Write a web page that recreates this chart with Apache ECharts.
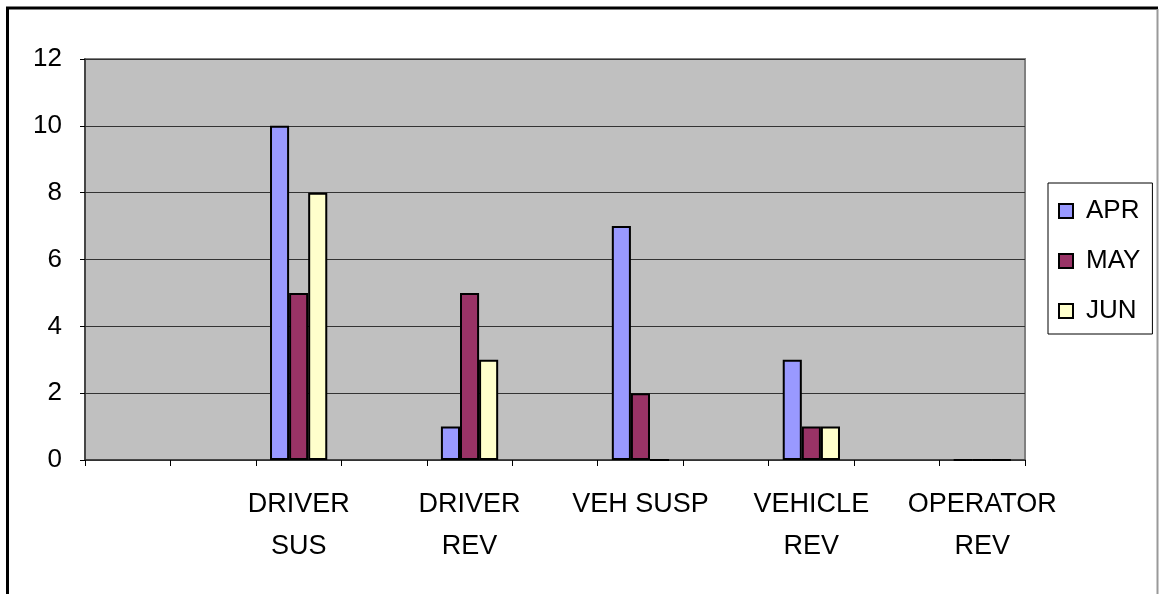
<!DOCTYPE html>
<html>
<head>
<meta charset="utf-8">
<script src="https://cdn.jsdelivr.net/npm/echarts@6/dist/echarts.min.js"></script>
<style>
html,body{margin:0;padding:0;background:#fff;}
#chart{width:1159px;height:594px;}
</style>
</head>
<body>
<div id="chart"></div>
<script>
const categories = ['', '', 'DRIVER\nSUS', '', 'DRIVER\nREV', '', 'VEH SUSP', '', 'VEHICLE\nREV', '', 'OPERATOR\nREV'];
const apr = [null, null, 10, null, 1, null, 7, null, 3, null, 0];
const may = [null, null, 5, null, 5, null, 2, null, 1, null, 0];
const jun = [null, null, 8, null, 3, null, 0, null, 1, null, 0];
const seriesNames = ['APR', 'MAY', 'JUN'];
const yTicks = {min: 0, max: 12, interval: 2};

const FONT = '"Liberation Sans", Arial, sans-serif';
const colors = ['#9999FF', '#993366', '#FFFFCC'];
const chart = echarts.init(document.getElementById('chart'), null, {renderer: 'canvas'});

function barSeries(name, data, color) {
  return {
    name: name, type: 'bar', data: data,
    barGap: '0%', barCategoryGap: '33%',
    itemStyle: {color: color, borderColor: '#000', borderWidth: 2},
    emphasis: {disabled: true}, animation: false
  };
}

chart.setOption({
  animation: false,
  backgroundColor: '#fff',
  textStyle: {fontFamily: FONT},
  grid: {
    left: 85, right: 134, top: 59, bottom: 134,
    show: true, backgroundColor: '#C0C0C0', borderColor: '#808080', borderWidth: 2
  },
  legend: {
    orient: 'vertical', left: 1048, top: 183,
    padding: [13, 12, 8, 10], itemGap: 20,
    itemWidth: 14, itemHeight: 14,
    backgroundColor: '#fff', borderColor: '#000', borderWidth: 1, borderRadius: 0,
    textStyle: {fontSize: 26, lineHeight: 30, color: '#000', fontFamily: FONT, padding: [0, 0, 0, 8]},
    data: seriesNames.map(n => ({name: n, icon: 'rect'}))
  },
  xAxis: {
    type: 'category', data: categories, boundaryGap: true,
    axisLine: {show: true, lineStyle: {color: '#333', width: 1.5}},
    axisTick: {show: true, interval: 0, length: 6, lineStyle: {color: '#000'}},
    axisLabel: {interval: 0, fontSize: 27, lineHeight: 42, margin: 24, color: '#000', fontFamily: FONT}
  },
  yAxis: {
    type: 'value', min: yTicks.min, max: yTicks.max, interval: yTicks.interval,
    axisLine: {show: true, lineStyle: {color: '#333', width: 1.5}},
    axisTick: {show: true, length: 5, lineStyle: {color: '#000'}},
    axisLabel: {fontSize: 26, margin: 23, color: '#000', fontFamily: FONT},
    splitLine: {show: true, lineStyle: {color: '#333', width: 1}}
  },
  graphic: [
    {type: 'line', shape: {x1: 6, y1: 8, x2: 1158, y2: 8}, style: {stroke: '#000', lineWidth: 3}, silent: true},
    {type: 'line', shape: {x1: 7.5, y1: 7, x2: 7.5, y2: 594}, style: {stroke: '#000', lineWidth: 3}, silent: true},
    {type: 'line', shape: {x1: 1157.5, y1: 9, x2: 1157.5, y2: 594}, style: {stroke: '#999', lineWidth: 2}, silent: true}
  ],
  series: [
    barSeries(seriesNames[0], apr, colors[0]),
    barSeries(seriesNames[1], may, colors[1]),
    barSeries(seriesNames[2], jun, colors[2])
  ]
});
</script>
</body>
</html>
